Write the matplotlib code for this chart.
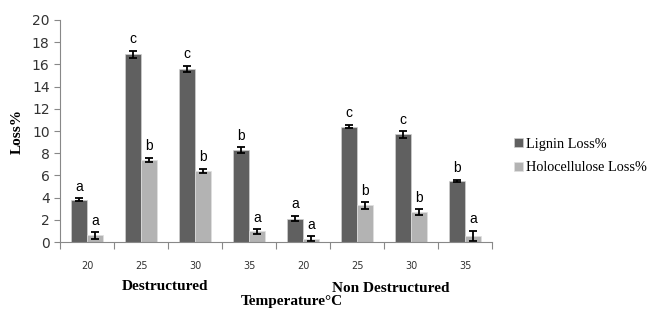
import matplotlib.pyplot as plt
import numpy as np

temps = ['20', '25', '30', '35', '20', '25', '30', '35']
lignin = [3.8, 16.9, 15.6, 8.3, 2.1, 10.4, 9.7, 5.5]
lignin_err = [0.15, 0.35, 0.3, 0.25, 0.25, 0.15, 0.3, 0.12]
holo = [0.6, 7.4, 6.4, 0.95, 0.3, 3.3, 2.7, 0.55]
holo_err = [0.3, 0.2, 0.2, 0.2, 0.2, 0.3, 0.25, 0.45]
lignin_letters = ['a', 'c', 'c', 'b', 'a', 'c', 'c', 'b']
holo_letters = ['a', 'b', 'b', 'a', 'a', 'b', 'b', 'a']
groups = ['Destructured', 'Non Destructured']

fig = plt.figure(figsize=(6.48, 3.09), dpi=100)
ax = fig.add_axes([0.0926, 0.2168, 0.6667, 0.7185])

x = np.arange(len(temps))
w = 0.3
ekw = dict(ecolor='black', elinewidth=1.3, capsize=3, capthick=1.3)
b1 = ax.bar(x - w / 2, lignin, w, yerr=lignin_err, color='#606060',
            edgecolor='#d0d0d0', linewidth=0.5, error_kw=ekw, label='Lignin Loss%')
b2 = ax.bar(x + w / 2, holo, w, yerr=holo_err, color='#b3b3b3',
            edgecolor='#e0e0e0', linewidth=0.5, error_kw=ekw, label='Holocellulose Loss%')

# significance letters above the error bars
for i in range(len(temps)):
    ax.text(x[i] - w / 2, lignin[i] + lignin_err[i] + 0.4, lignin_letters[i],
            ha='center', va='bottom', fontsize=10, family='Liberation Sans')
    ax.text(x[i] + w / 2, holo[i] + holo_err[i] + 0.4, holo_letters[i],
            ha='center', va='bottom', fontsize=10, family='Liberation Sans')

ax.set_xlim(-0.5, len(temps) - 0.5)
ax.set_ylim(0, 20)
ax.set_yticks(range(0, 21, 2))
ax.tick_params(axis='y', labelsize=10, colors='#333333', length=4, color='#888888')
ax.set_xticks(np.arange(-0.5, len(temps), 1.0))
ax.set_xticklabels([])
ax.set_xticks(x, minor=True)
ax.set_xticklabels(temps, minor=True, fontsize=7, color='#333333')
ax.tick_params(axis='x', which='major', length=5, color='#888888')
ax.tick_params(axis='x', which='minor', length=0, pad=14)
for s in ['top', 'right']:
    ax.spines[s].set_visible(False)
ax.spines['left'].set_color('#888888')
ax.spines['bottom'].set_color('#888888')

ax.set_ylabel('Loss%', family='Liberation Serif', fontweight='bold', fontsize=11, labelpad=6)

fig.text(165 / 648, 1 - 287 / 309, groups[0], ha='center', va='center',
         family='Liberation Serif', fontweight='bold', fontsize=11)
fig.text(391 / 648, 1 - 288 / 309, groups[1], ha='center', va='center',
         family='Liberation Serif', fontweight='bold', fontsize=11)
fig.text(292 / 648, 1 - 302 / 309, 'Temperature°C', ha='center', va='center',
         family='Liberation Serif', fontweight='bold', fontsize=11)

fig.legend(handles=[b1, b2], loc='center left', bbox_to_anchor=(0.774, 0.495),
           frameon=False, prop={'family': 'Liberation Serif', 'size': 10.3},
           handlelength=0.6, handleheight=0.6, handletextpad=0.2, labelspacing=0.75)

fig.savefig('out.png', dpi=100)
